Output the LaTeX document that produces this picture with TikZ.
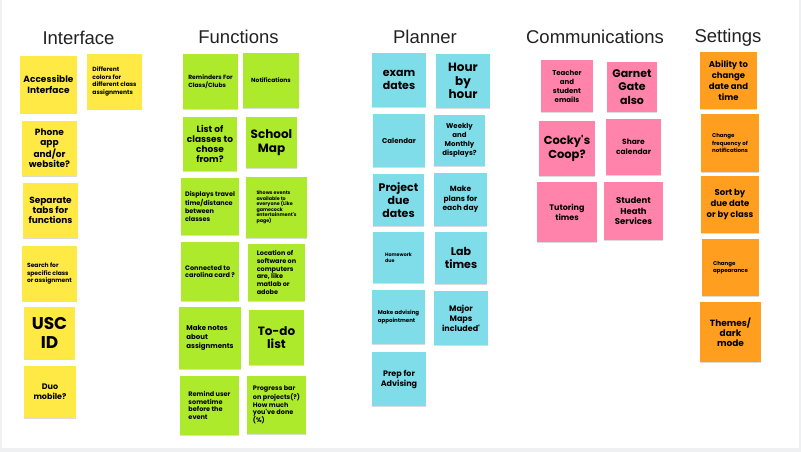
\documentclass[tikz,border=0pt]{standalone}
\usepackage{fontspec}
\setmainfont{Poppins}
\newfontfamily\titlefont{Liberation Sans}
\usetikzlibrary{shadows}
\definecolor{bggray}{HTML}{EFF0F1}
\definecolor{stYellow}{HTML}{FFEA45}
\definecolor{stGreen}{HTML}{AEEA2C}
\definecolor{stCyan}{HTML}{7FDDEA}
\definecolor{stPink}{HTML}{FF83AA}
\definecolor{stOrange}{HTML}{FF9E1F}
\definecolor{titlegray}{HTML}{222222}
\newcommand\ap{\textquotesingle}
\tikzset{
  note/.style={inner sep=1pt, align=center, text=black,
    drop shadow={shadow xshift=0.4pt, shadow yshift=-1pt, fill=black, opacity=0.14}},
  lft/.style={align=left},
  yel/.style={fill=stYellow},
  grn/.style={fill=stGreen},
  cya/.style={fill=stCyan},
  pnk/.style={fill=stPink},
  org/.style={fill=stOrange},
  coltitle/.style={font=\titlefont\fontsize{18.5}{20}\selectfont, text=titlegray, anchor=base, inner sep=0pt},
  t17/.style={font=\fontsize{17}{19}\selectfont\bfseries},
  t12/.style={font=\fontsize{12}{13.5}\selectfont\bfseries},
  t115/.style={font=\fontsize{11.5}{14}\selectfont\bfseries},
  t11/.style={font=\fontsize{11}{13.3}\selectfont\bfseries},
  t9/.style={font=\fontsize{9}{10.2}\selectfont\bfseries},
  t85/.style={font=\fontsize{8.5}{10.8}\selectfont\bfseries},
  t8/.style={font=\fontsize{8}{10}\selectfont\bfseries},
  t75/.style={font=\fontsize{7.5}{9.5}\selectfont\bfseries},
  t7/.style={font=\fontsize{7}{9}\selectfont\bfseries},
  t65/.style={font=\fontsize{6.5}{7.7}\selectfont\bfseries},
  t6/.style={font=\fontsize{6}{7.4}\selectfont\bfseries},
  t55/.style={font=\fontsize{5.5}{7.4}\selectfont\bfseries},
  t5/.style={font=\fontsize{4.8}{5.5}\selectfont\bfseries},
}
\newcommand\stick[7]{\node[note,#6,minimum width={(#4-#2)*1pt},minimum height={(#5-#3)*1pt}] (#1) at ({(#2+#4)/2},{(#3+#5)/2}) {#7};}
\begin{document}
\begin{tikzpicture}[x=1pt,y=-1pt]
\useasboundingbox (0,0) rectangle (801,452);
\fill[bggray] (0,0) rectangle (801,452);
\fill[white] (1.5,0) rectangle (798.5,448);
% titles
\node[coltitle] (tInterface) at (78.5,44.3) {Interface};
\node[coltitle] (tFunctions) at (238.5,44) {Functions};
\node[coltitle] (tPlanner) at (425,44) {Planner};
\node[coltitle] (tComm) at (595,43.3) {Communications};
\node[coltitle] (tSettings) at (728,43) {Settings};
% Interface
\stick{acc}{20}{56}{77}{113}{yel,t9}{Accessible\\Interface}
\stick{diff}{87}{54}{142}{109}{yel,t6,lft}{Different\\colors for\\different class\\assignments}
\stick{phone}{22}{121}{77}{176}{yel,t9}{Phone\\app\\and/or\\website?}
\stick{tabs}{23}{183}{78}{238}{yel,t9}{Separate\\tabs for\\functions}
\stick{search}{22}{246}{77}{301}{yel,t6,lft}{Search for\\specific class\\or assignment}
\stick{usc}{24}{307}{75}{359}{yel,t17}{USC\\ID}
\stick{duo}{24}{366}{76}{418}{yel,t8}{Duo\\mobile?}
% Functions
\stick{rem}{183}{54}{238}{109}{grn,t6,lft}{Reminders For\\Class/Clubs}
\stick{notif}{243}{53}{299}{108}{grn,t6}{Notifications}
\stick{list}{183}{117}{237}{171}{grn,t9}{List of\\classes to\\chose\\from?}
\stick{map}{246}{117}{297}{168}{grn,t12}{School\\Map}
\stick{travel}{181}{178}{239}{235}{grn,t65,lft}{Displays travel\\time/distance\\between\\classes}
\stick{events}{246}{177}{307}{238}{grn,t5,lft}{Shows events\\available to\\everyone (Like\\gamecock\\entertainment\ap s\\page)}
\stick{card}{181}{242}{239}{301}{grn,t65,lft}{Connected to\\carolina card ?}
\stick{soft}{248}{244}{305}{301}{grn,t65,lft}{Location of\\software on\\computers\\are, like\\matlab or\\adobe}
\stick{mnotes}{179}{307}{241}{369}{grn,t7,lft}{Make notes\\about\\assignments}
\stick{todo}{249}{310}{304}{365}{grn,t12}{To-do\\list}
\stick{remind}{180}{376}{239}{435}{grn,t65,lft}{Remind user\\sometime\\before the\\event}
\stick{prog}{247}{376}{306}{434}{grn,t65,lft}{Progress bar\\on projects(?)\\How much\\you\ap ve done\\(\%)}
% Planner
\stick{exam}{372}{53}{426}{107}{cya,t11}{exam\\dates}
\stick{hour}{436}{54}{490}{108}{cya,t12}{Hour\\by\\hour}
\stick{cal}{373}{114}{425}{167}{cya,t7}{Calendar}
\stick{week}{434}{115}{485}{166}{cya,t7}{Weekly\\and\\Monthly\\displays?}
\stick{proj}{373}{174}{424}{226}{cya,t11}{Project\\due\\dates}
\stick{plans}{434}{173}{487}{226}{cya,t75}{Make\\plans for\\each day}
\stick{hw}{373}{232}{424}{283}{cya,t5,lft}{Homework\\due}
\stick{lab}{435}{232}{487}{284}{cya,t11}{Lab\\times}
\stick{adv}{372}{290}{425}{344}{cya,t55,lft}{Make advising\\appointment}
\stick{major}{434}{291}{488}{345}{cya,t8}{Major\\Maps\\included\ap}
\stick{prep}{372}{352}{426}{406}{cya,t8}{Prep for\\Advising}
% Communications
\stick{teach}{541}{60}{593}{112}{pnk,t7}{Teacher\\and\\student\\emails}
\stick{garnet}{607}{62}{657}{112}{pnk,t11}{Garnet\\Gate\\also}
\stick{cocky}{539}{121}{595}{176}{pnk,t115}{Cocky\ap s\\Coop?}
\stick{share}{606}{119}{661}{175}{pnk,t75}{Share\\calendar}
\stick{tutor}{537}{182}{597}{242}{pnk,t8}{Tutoring\\times}
\stick{health}{604}{182}{663}{240}{pnk,t85}{Student\\Heath\\Services}
% Settings
\stick{abil}{700}{52}{757}{109}{org,t85}{Ability to\\change\\date and\\time}
\stick{freq}{701}{114}{759}{172}{org,t55,lft}{Change\\frequency of\\notifications}
\stick{sort}{701}{176}{759}{233}{org,t85}{Sort by\\due date\\or by class}
\stick{appear}{702}{239}{759}{296}{org,t55,lft}{Change\\appearance}
\stick{theme}{700}{302}{761}{362}{org,t9}{Themes/\\dark\\mode}
\end{tikzpicture}
\end{document}
